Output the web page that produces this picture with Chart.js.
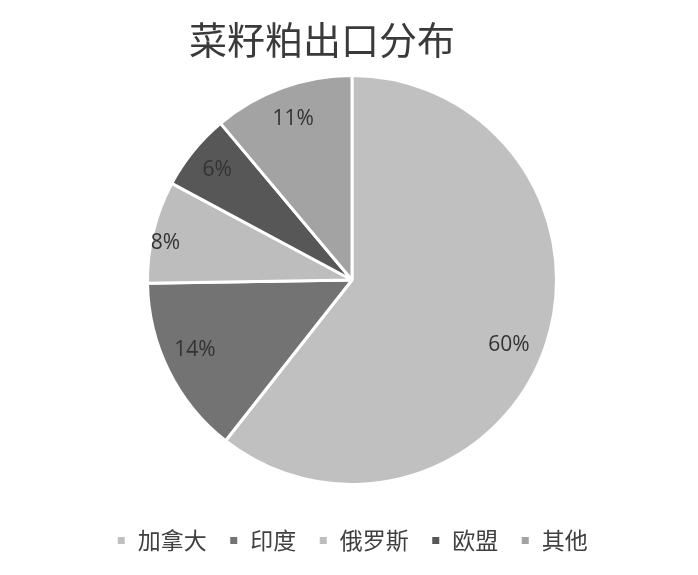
<!DOCTYPE html>
<html><head><meta charset="utf-8">
<script src="https://cdn.jsdelivr.net/npm/chart.js@4.4.0/dist/chart.umd.min.js"></script>
<style>html,body{margin:0;padding:0;background:#fff;}#wrap{width:698px;height:575px;}</style>
</head><body><div id="wrap"><canvas id="c" width="698" height="575"></canvas></div>
<script>
const chartTitle = '菜籽粕出口分布';
const categories = ['加拿大','印度','俄罗斯','欧盟','其他'];
const shares = [60,14,8,6,11];
const percentLabels = ['60%','14%','8%','6%','11%'];
const sliceColors = ['#c0c0c0','#737373','#bdbdbd','#575757','#a3a3a3'];

const labelRadius = [0.83,0.84,0.93,0.85,0.84];
const labelAngleShift = [3.4,2.4,-2.4,0,0];
const labelPlugin = {
  id:'sliceLabels',
  afterDatasetsDraw(chart){
    const ctx = chart.ctx;
    const meta = chart.getDatasetMeta(0);
    ctx.save();
    ctx.font = '21px "Open Sans", "Liberation Sans", sans-serif';
    ctx.fillStyle = '#333333';
    ctx.textAlign='center'; ctx.textBaseline='middle';
    meta.data.forEach((arc,i)=>{
      const mid = (arc.startAngle+arc.endAngle)/2 + labelAngleShift[i]*Math.PI/180;
      const r = arc.outerRadius*labelRadius[i];
      ctx.fillText(percentLabels[i], arc.x+Math.cos(mid)*r, arc.y+Math.sin(mid)*r);
    });
    ctx.restore();
  }
};
const titlePlugin = {
  id:'customTitle',
  afterDraw(chart){
    const ctx = chart.ctx;
    ctx.save();
    ctx.font = '38px "Noto Sans CJK SC"';
    ctx.fillStyle = '#3a3a3a';
    ctx.textAlign='center'; ctx.textBaseline='middle';
    ctx.fillText(chartTitle, 322, 40);
    ctx.restore();
  }
};

new Chart(document.getElementById('c'),{
  type:'pie',
  data:{labels:categories,datasets:[{data:shares,backgroundColor:sliceColors,borderColor:'#ffffff',borderWidth:3}]},
  options:{
    responsive:false, animation:false,
    layout:{padding:{left:6,right:0,top:74,bottom:13}},
    plugins:{
      title:{display:false},
      legend:{position:'bottom',
        title:{display:true,text:' ',font:{size:10,lineHeight:1},padding:{top:11,bottom:0}},
        labels:{boxWidth:10,boxHeight:10,padding:22,color:'#404040',
        font:{family:'"Noto Sans CJK SC"',size:23}}},
      tooltip:{enabled:false}
    }
  },
  plugins:[labelPlugin,titlePlugin]
});
</script></body></html>
